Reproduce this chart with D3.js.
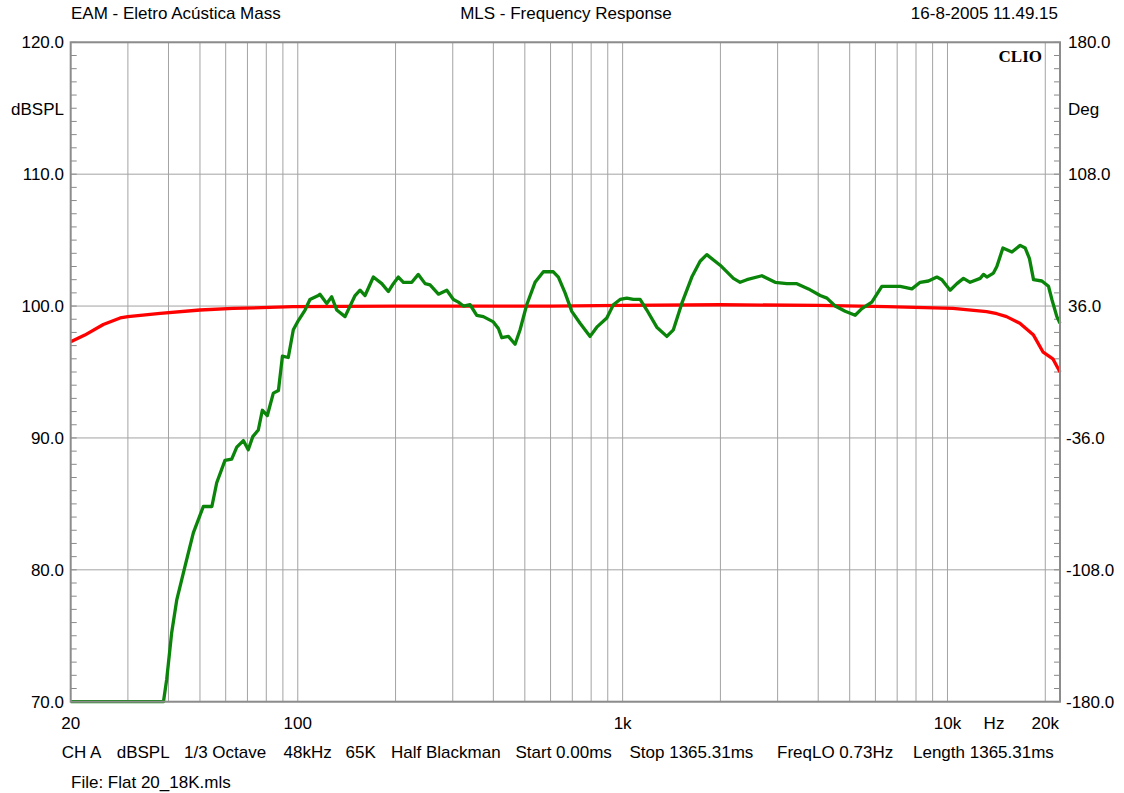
<!DOCTYPE html>
<html>
<head>
<meta charset="utf-8">
<script src="https://cdn.jsdelivr.net/npm/d3@7"></script>
<style>
  body { margin: 0; background: #fff; }
  text { font-family: 'Liberation Sans', Arial, sans-serif; font-size: 17px; fill: #000; }
</style>
</head>
<body>
<div id="chart"></div>
<script>
// DATA
// frequency (Hz), level (dBSPL)
let response = [
  [20, 70], [38.6, 70], [39.5, 71.7], [40.9, 75.2], [42.4, 77.7], [45, 80.3], [47.7, 82.8],
  [51.2, 84.8], [54.4, 84.8], [56.3, 86.6], [59.7, 88.3], [62.6, 88.4], [64.9, 89.3], [68, 89.8],
  [70.4, 89.1], [72.7, 90.1], [75.6, 90.6], [77.8, 92.1], [80.6, 91.7], [84.1, 93.4], [87.2, 93.6],
  [89.7, 96.2], [93.5, 96.1], [96.9, 98.2], [100.4, 98.9], [105.3, 99.7], [109, 100.5], [115.7, 100.8],
  [117, 100.9], [122.8, 100.2], [127.2, 100.7], [131.8, 99.7], [139.8, 99.2], [150.1, 100.8],
  [155.5, 101.2], [161.1, 100.8], [170.9, 102.2], [181.4, 101.7], [190, 101.1], [196.9, 101.7],
  [204, 102.2], [211.4, 101.8], [224.4, 101.8], [235, 102.4], [246.6, 101.7], [255.4, 101.6],
  [271, 100.9], [287.6, 101.2], [301.4, 100.5], [312.2, 100.3], [323.4, 100], [339.2, 100.1],
  [355.7, 99.3], [372.6, 99.2], [400, 98.8], [414.6, 98.3], [424.6, 97.6], [445, 97.7], [466.6, 97.1],
  [483.4, 98.2], [506.8, 100.1], [537.6, 101.8], [570.2, 102.6], [612, 102.6], [634.2, 102.2],
  [665, 101], [697.4, 99.6], [739.6, 98.7], [794, 97.7], [832.6, 98.4], [893.8, 99.1], [936.6, 100.1],
  [982, 100.5], [1030, 100.6], [1079, 100.5], [1132, 100.5], [1187, 99.7], [1274, 98.4], [1368, 97.7],
  [1433, 98.2], [1521, 100.2], [1633, 102.2], [1732, 103.4], [1816, 103.9], [1996, 103.1],
  [2193, 102.1], [2300, 101.8], [2412, 102], [2683, 102.3], [2948, 101.8], [3203, 101.7],
  [3439, 101.7], [3733, 101.3], [4055, 100.8], [4255, 100.6], [4510, 100], [4842, 99.6], [5197, 99.3],
  [5450, 99.8], [5850, 100.3], [6280, 101.5], [6661, 101.5], [7152, 101.5], [7770, 101.3],
  [8240, 101.8], [8739, 101.9], [9277, 102.2], [9612, 102], [10190, 101.2], [10690, 101.7],
  [11200, 102.1], [11740, 101.8], [12610, 102.1], [12910, 102.4], [13220, 102.2], [13850, 102.5],
  [14190, 103], [14810, 104.4], [15790, 104.1], [16740, 104.6], [17350, 104.4], [17880, 103.6],
  [18400, 102], [19520, 101.9], [20460, 101.5], [20960, 100.5], [21710, 99.2], [22200, 98.7]
]

let reference = [
  [20, 97.3], [22.1, 97.8], [25.2, 98.6], [28.4, 99.1], [30, 99.2], [37.7, 99.45], [50, 99.7],
  [63.2, 99.82], [96.6, 99.95], [200, 100], [600, 100], [1000, 100.05], [2000, 100.1],
  [4000, 100.05], [6500, 99.95], [10400, 99.83], [13200, 99.58], [14200, 99.42], [15200, 99.2],
  [16700, 98.7], [18400, 97.8], [19700, 96.5], [21100, 96], [22200, 95]
]

let freqGrid = [30, 40, 50, 60, 70, 80, 90, 100, 200, 300, 400, 500, 600, 700, 800, 900,
  1000, 2000, 3000, 4000, 5000, 6000, 7000, 8000, 9000, 10000, 20000]
let freqLabels = [[20, '20'], [100, '100'], [1000, '1k'], [10000, '10k'], [20000, '20k']]
let dbTicks = [70, 80, 90, 100, 110, 120]
let degTicks = [-180, -108, -36, 36, 108, 180]

let footerText = ['CH A', 'dBSPL', '1/3 Octave', '48kHz', '65K', 'Half Blackman',
  'Start 0.00ms', 'Stop 1365.31ms', 'FreqLO 0.73Hz', 'Length 1365.31ms']
let footerX = [61.7, 116.7, 184, 283.5, 345.5, 391, 515.5, 629.5, 777, 913]

// CHART SETUP
let width = 1124, height = 793
let plotLeft = 70.7, plotRight = 1060, plotTop = 42.3, plotBottom = 701.7

let svg = d3.select('#chart')
  .append('svg')
  .attr('width', width)
  .attr('height', height)

svg.append('rect').attr('width', width).attr('height', height).attr('fill', '#fff')

let x = d3.scaleLog().domain([20, 22200]).range([plotLeft, plotRight])
let y = d3.scaleLinear().domain([70, 120]).range([plotBottom, plotTop])
let yDeg = d3.scaleLinear().domain([-180, 180]).range([plotBottom, plotTop])

// GRID
let grid = svg.append('g').attr('stroke', '#a3a3a3').attr('stroke-width', 1)

grid.selectAll('.vline')
  .data(freqGrid)
  .enter().append('line')
  .attr('x1', d => x(d)).attr('x2', d => x(d))
  .attr('y1', plotTop).attr('y2', plotBottom)

grid.selectAll('.hline')
  .data(dbTicks)
  .enter().append('line')
  .attr('x1', plotLeft).attr('x2', plotRight)
  .attr('y1', d => y(d)).attr('y2', d => y(d))

// minor ticks, one per dB on the left and one per 7.2 deg on the right
let minor = d3.range(70, 121, 1)
let ticks = svg.append('g').attr('stroke', '#8a8a8a').attr('stroke-width', 1)
ticks.selectAll('.lt')
  .data(minor)
  .enter().append('line')
  .attr('x1', plotLeft).attr('x2', plotLeft + 6)
  .attr('y1', d => y(d)).attr('y2', d => y(d))
ticks.selectAll('.rt')
  .data(minor)
  .enter().append('line')
  .attr('x1', plotRight - 6).attr('x2', plotRight)
  .attr('y1', d => y(d)).attr('y2', d => y(d))

// CURVES
let line = d3.line()
  .x(d => x(d[0]))
  .y(d => y(d[1]))

svg.append('path')
  .datum(reference)
  .attr('d', line)
  .attr('fill', 'none')
  .attr('stroke', '#ff0000')
  .attr('stroke-width', 3.3)
  .attr('stroke-linejoin', 'round')

svg.append('path')
  .datum(response)
  .attr('d', line)
  .attr('fill', 'none')
  .attr('stroke', '#0a850a')
  .attr('stroke-width', 3.3)
  .attr('stroke-linejoin', 'round')

// frame
svg.append('rect')
  .attr('x', plotLeft).attr('y', plotTop)
  .attr('width', plotRight - plotLeft).attr('height', plotBottom - plotTop)
  .attr('fill', 'none')
  .attr('stroke', '#8c8c8c')
  .attr('stroke-width', 2)

// AXIS LABELS
svg.selectAll('.dbLabel')
  .data(dbTicks)
  .enter().append('text')
  .attr('x', 64)
  .attr('y', d => y(d) + 6)
  .attr('text-anchor', 'end')
  .text(d => d3.format('.1f')(d))

svg.selectAll('.degLabel')
  .data(degTicks)
  .enter().append('text')
  .attr('x', d => d < 0 ? 1066 : 1068)
  .attr('y', d => yDeg(d) + 6)
  .text(d => d3.format('.1f')(d).replace('−', '-'))

svg.selectAll('.fLabel')
  .data(freqLabels)
  .enter().append('text')
  .attr('x', d => x(d[0]))
  .attr('y', 729)
  .attr('text-anchor', 'middle')
  .text(d => d[1])

svg.append('text').attr('x', 994).attr('y', 729).attr('text-anchor', 'middle').text('Hz')
svg.append('text').attr('x', 64).attr('y', 115).attr('text-anchor', 'end').text('dBSPL')
svg.append('text').attr('x', 1068).attr('y', 115).text('Deg')

// HEADER
svg.append('text').attr('x', 71).attr('y', 19).text('EAM - Eletro Acústica Mass')
svg.append('text').attr('x', 566).attr('y', 19).attr('text-anchor', 'middle').text('MLS - Frequency Response')
svg.append('text').attr('x', 1058).attr('y', 19).attr('text-anchor', 'end').text('16-8-2005 11.49.15')

svg.append('text')
  .attr('x', 1042).attr('y', 61.5)
  .attr('text-anchor', 'end')
  .style('font-family', "'Liberation Serif', 'Times New Roman', serif")
  .style('font-weight', 700)
  .style('font-size', '17px')
  .text('CLIO')

// FOOTER
svg.selectAll('.footer')
  .data(footerText)
  .enter().append('text')
  .attr('x', (d, i) => footerX[i])
  .attr('y', 757.5)
  .text(d => d)

svg.append('text').attr('x', 71).attr('y', 788).text('File: Flat 20_18K.mls')
</script>
</body>
</html>
